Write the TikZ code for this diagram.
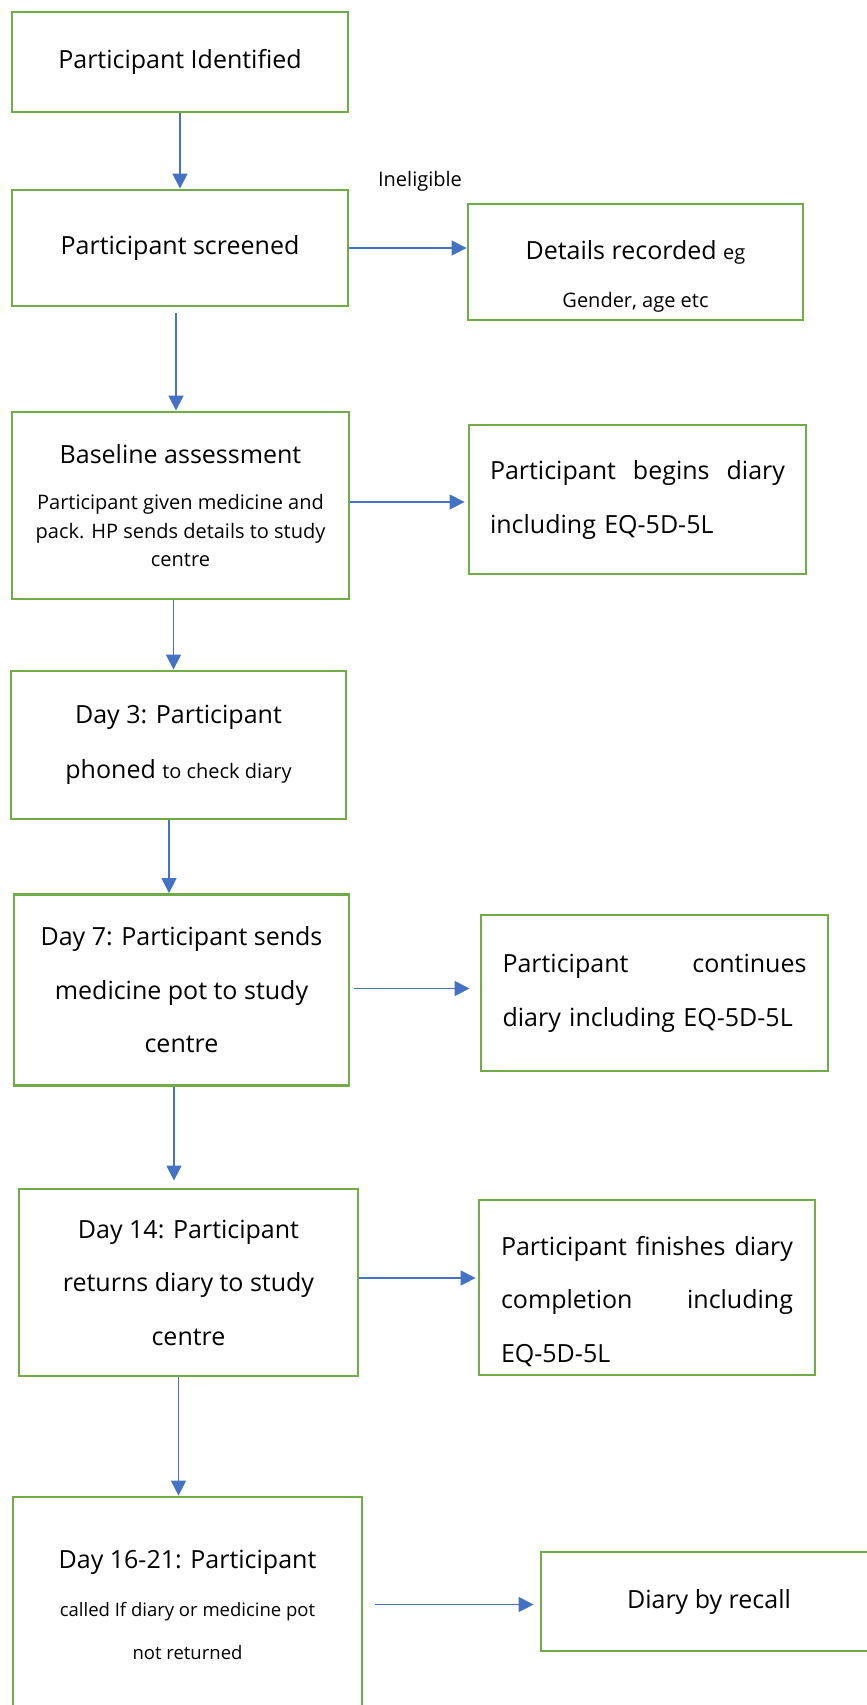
\documentclass[tikz,border=0pt]{standalone}
\usepackage{fontspec}
\setmainfont{Open Sans}
\usetikzlibrary{arrows.meta}
\definecolor{boxgreen}{HTML}{70AD47}
\definecolor{flowblue}{HTML}{4472C4}
\newcommand{\bigfont}{\fontsize{25}{54}\selectfont}
\newcommand{\smallfont}{\fontsize{20}{28.5}\selectfont}

\begin{document}
\begin{tikzpicture}[x=1pt, y=-1pt,
    box/.style={draw=boxgreen, line width=2.8pt, inner sep=0pt, align=center, font=\bigfont},
    flow/.style={draw=flowblue, line width=1.3pt, -{Triangle[length=15pt,width=15pt]}}]

    \useasboundingbox (0,0) rectangle (867,1705);

    % steps on the left
    \node[box, minimum width=336pt, minimum height=100pt] (b1) at (180,62) {Participant Identified};
    \node[box, minimum width=336pt, minimum height=116pt] (b2) at (180,248) {Participant screened};
    \node[box, minimum width=337pt, minimum height=187pt, font=\smallfont] (b4) at (180.5,505.5) {{\bigfont Baseline assessment}\\[18pt] Participant given medicine and\\ pack. HP sends details to study\\ centre};
    \node[box, minimum width=335pt, minimum height=148pt, font=\fontsize{25}{55}\selectfont] (b5) at (178.5,745) {Day 3: Participant\\ phoned {\smallfont to check diary}};
    \node[box, minimum width=335pt, minimum height=191pt, font=\fontsize{25}{53.5}\selectfont] (b7) at (181.5,990) {Day 7: Participant sends\\ medicine pot to study\\ centre};
    \node[box, minimum width=339pt, minimum height=187pt, font=\fontsize{25}{53.5}\selectfont] (b9) at (188.5,1282.5) {Day 14: Participant\\ returns diary to study\\ centre};
    \node[box, minimum width=349pt, minimum height=215pt, font=\fontsize{18.5}{43}\selectfont] (b11) at (187.5,1604.5) {{\bigfont Day 16-21: Participant}\\[5pt] called If diary or medicine pot\\ not returned};

    % outcomes on the right
    \node[box, minimum width=335pt, minimum height=116pt] (b3) at (635.5,262) {};
    \node[font=\fontsize{25}{48}\selectfont, align=center] (b3txt) at (635.5,276) {Details recorded {\smallfont eg}\\ {\smallfont Gender, age etc}};
    \node[box, minimum width=337pt, minimum height=149pt, text width=295pt, align=left] (b6) at (637.5,499.5) {\makebox[295pt]{Participant\hfill begins\hfill diary}\\ including EQ-5D-5L};
    \node[box, minimum width=347pt, minimum height=156pt, text width=304pt, align=left] (b8) at (654.5,993) {\makebox[304pt]{Participant\hfill continues}\\ diary including EQ-5D-5L};
    \node[box, minimum width=336pt, minimum height=175pt] (b10) at (647,1287.5) {};
    \node[font=\fontsize{25}{53.5}\selectfont, text width=292pt, align=left] (b10txt) at (647,1301.5) {\makebox[292pt]{Participant\hfill finishes\hfill diary}\\ \makebox[292pt]{completion\hfill including}\\ EQ-5D-5L};
    \node[box, minimum width=336pt, minimum height=99pt] (b12) at (709,1601.5) {Diary by recall};

    \node[font=\smallfont] (inel) at (420,181) {Ineligible};

    % arrows
    \draw[flow] (b1.south) -- (b1.south |- b2.north);
    \draw[flow] (b2.east) -- (b2.east -| b3.west);
    \draw[flow, shorten <=6pt] ([xshift=-4pt]b2.south) -- ([xshift=-4pt]b2.south |- b4.north);
    \draw[flow, shorten >=3pt] ([yshift=3.5pt]b4.east) -- ([yshift=3.5pt]b4.east -| b6.west);
    \draw[flow] ([xshift=-7pt]b4.south) -- ([xshift=-7pt]b4.south |- b5.north);
    \draw[flow] ([xshift=-9.5pt]b5.south) -- ([xshift=-9.5pt]b5.south |- b7.north);
    \draw[flow, shorten <=4pt, shorten >=10pt] ([yshift=1.5pt]b7.east) -- ([yshift=1.5pt]b7.east -| b8.west);
    \draw[flow, shorten >=7pt] ([xshift=-7.5pt]b7.south) -- ([xshift=-7.5pt]b7.south |- b9.north);
    \draw[flow, shorten >=2pt] ([yshift=4.5pt]b9.east) -- ([yshift=4.5pt]b9.east -| b10.west);
    \draw[flow] ([xshift=-10pt]b9.south) -- ([xshift=-10pt]b9.south |- b11.north);
    \draw[flow, shorten <=12pt, shorten >=6pt] (b11.east) -- (b11.east -| b12.west);

\end{tikzpicture}
\end{document}
